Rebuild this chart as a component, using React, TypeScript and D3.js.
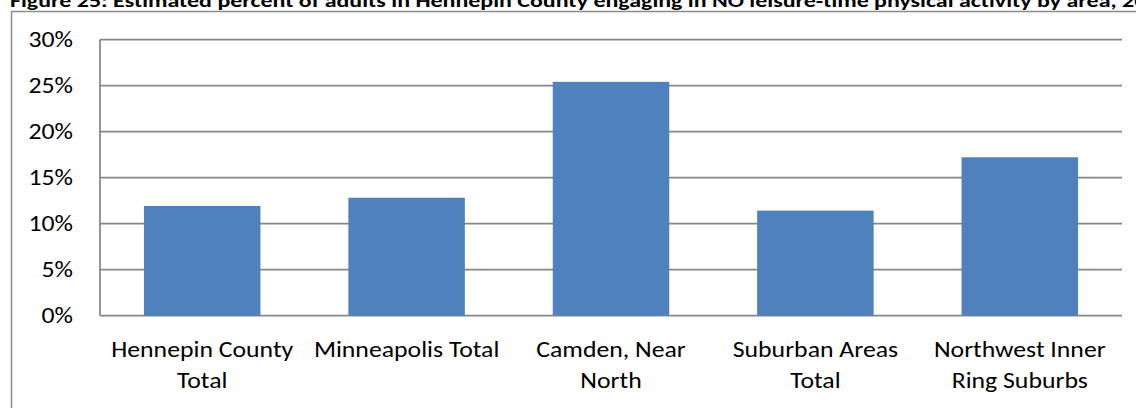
import React, { useLayoutEffect, useRef, useState } from 'react';
import * as d3 from 'd3';

const titleText =
  'Figure 25: Estimated percent of adults in Hennepin County engaging in NO leisure-time physical activity by area, 2010';
const titlePrefix =
  'Figure 25: Estimated percent of adults in Hennepin County engaging in NO leisure-time physical activity by area, 2';
const categories = [
  'Hennepin County Total',
  'Minneapolis Total',
  'Camden, Near North',
  'Suburban Areas Total',
  'Northwest Inner Ring Suburbs',
];
const categoryLines = [
  ['Hennepin County', 'Total'],
  ['Minneapolis Total'],
  ['Camden, Near', 'North'],
  ['Suburban Areas', 'Total'],
  ['Northwest Inner', 'Ring Suburbs'],
];
const values = [11.9, 12.8, 25.4, 11.4, 17.2];
const yTicks = [0, 5, 10, 15, 20, 25, 30];

const W = 1136;
const H = 408;
const FONT = "Carlito, Calibri, 'Open Sans', 'Noto Sans', sans-serif";
const FS = 21.5;

export default function App() {
  const titleRef = useRef<SVGTextElement>(null);
  const catRef = useRef<SVGTextElement>(null);
  const [titleScale, setTitleScale] = useState(1.1);
  const [labelScale, setLabelScale] = useState(1.1);

  useLayoutEffect(() => {
    document.body.style.margin = '0';
    const el = titleRef.current;
    if (el) {
      const len = el.getSubStringLength(0, titlePrefix.length);
      if (len > 0) setTitleScale((1134 - 10) / len);
    }
    const c = catRef.current;
    if (c) {
      const len = c.getComputedTextLength();
      if (len > 0) setLabelScale(182 / len);
    }
  }, []);

  const left = 100;
  const right = 1122;
  const top = 39.5;
  const bottom = 315.5;

  const x = d3
    .scaleBand<string>()
    .domain(categories)
    .range([left, right])
    .paddingInner(0.43)
    .paddingOuter(0.215);
  const y = d3.scaleLinear().domain([0, 30]).range([bottom, top]);

  const grid = '#868686';

  return (
    <svg width={W} height={H} style={{ display: 'block' }} fontFamily={FONT}>
      <rect x={0} y={0} width={W} height={H} fill="#ffffff" />
      <text
        ref={titleRef}
        fontWeight="bold"
        fontSize={18}
        fill="#000"
        transform={`translate(10,7) scale(${titleScale},1)`}
      >
        {titleText}
      </text>
      <rect x={11.5} y={11.5} width={W} height={H} fill="none" stroke="#8c8c8c" strokeWidth={1.5} />

      {yTicks.map((t) => (
        <line key={'g' + t} x1={left} x2={right} y1={y(t)} y2={y(t)} stroke={grid} strokeWidth={1.75} />
      ))}
      <line x1={left} x2={left} y1={top} y2={bottom} stroke={grid} strokeWidth={1.75} />

      {categories.map((c, i) => (
        <rect
          key={c}
          x={x(c)}
          y={y(values[i])}
          width={x.bandwidth()}
          height={bottom - y(values[i])}
          fill="#4F81BD"
        />
      ))}

      {yTicks.map((t) => (
        <text
          key={'t' + t}
          transform={`translate(73,${y(t) + 7}) scale(${labelScale},1)`}
          textAnchor="end"
          fontSize={FS}
          fill="#000"
        >
          {t + '%'}
        </text>
      ))}

      {categories.map((c, i) => {
        const cx = (x(c) as number) + x.bandwidth() / 2;
        return categoryLines[i].map((ln, j) => (
          <text
            key={c + j}
            ref={i === 0 && j === 0 ? catRef : undefined}
            transform={`translate(${cx},${357 + j * 31}) scale(${labelScale},1)`}
            textAnchor="middle"
            fontSize={FS}
            fill="#000"
          >
            {ln}
          </text>
        ));
      })}
    </svg>
  );
}
